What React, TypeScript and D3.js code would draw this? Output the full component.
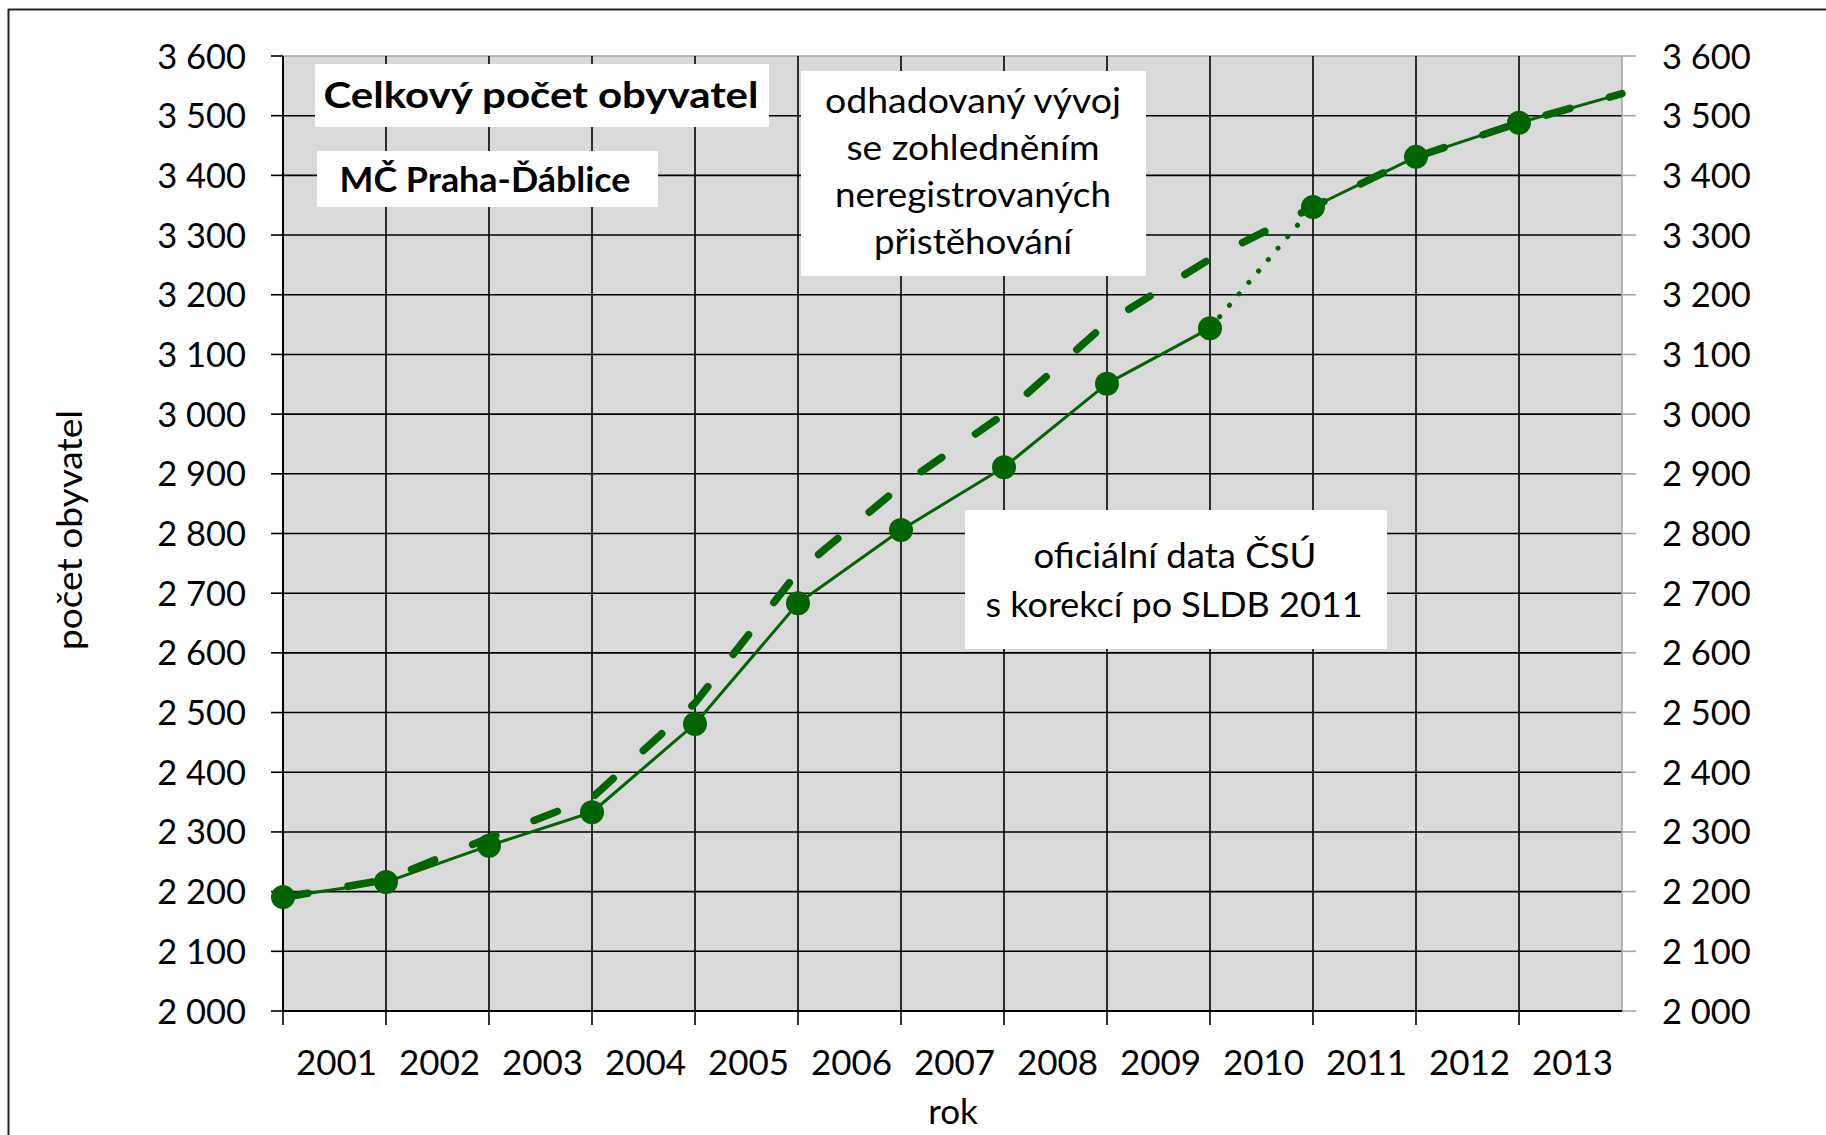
import React from 'react';
import * as d3 from 'd3';

// ---- data ----
const years = ['2001', '2002', '2003', '2004', '2005', '2006', '2007', '2008', '2009', '2010', '2011', '2012', '2013'];
// values at the category boundaries (start of each year, plus the end of 2013)
const official = [2191, 2216, 2277, 2333, 2481, 2683, 2806, 2911, 3051, 3144, 3347, 3431, 3488, 3537];
const estimated = [2190, 2220, 2290, 2357, 2516, 2736, 2880, 3000, 3153, 3260, 3347, 3431, 3488, 3537];
const yTicks = [2000, 2100, 2200, 2300, 2400, 2500, 2600, 2700, 2800, 2900, 3000, 3100, 3200, 3300, 3400, 3500, 3600];
const markerCount = 13;
const dottedFrom = 9; // official series: dotted segment 2009 -> 2010

const W = 1826;
const H = 1135;
const X0 = 283;
const X1 = 1622;
const Y0 = 56;
const Y1 = 1011;
const GREEN = '#006400';
const FONT = 'Lato, "Open Sans", sans-serif';

const fmt = d3.formatLocale({ decimal: ',', thousands: ' ', grouping: [3], currency: ['', ''] }).format(',d');

export default function App() {
  const x = d3.scaleLinear().domain([0, years.length]).range([X0, X1]);
  const band = d3.scaleBand().domain(years).range([X0, X1]).padding(0);
  const y = d3.scaleLinear().domain([2000, 3600]).range([Y1, Y0]);
  const lineOff = (off: number) =>
    d3
      .line<number>()
      .x((_, i) => x(i + off))
      .y((d) => y(d));
  const line = lineOff(0);

  const solidA = official.slice(0, dottedFrom + 1);
  const dotted = official.slice(dottedFrom, dottedFrom + 2);
  const solidB = official.slice(dottedFrom + 1);

  return (
    <svg
      width={W}
      height={H}
      viewBox={`0 0 ${W} ${H}`}
      style={{ position: 'absolute', left: 0, top: 0, display: 'block', background: '#fff' }}
      fontFamily={FONT}
    >
      {/* outer frame (left & top visible) */}
      <line x1={8.5} y1={9} x2={8.5} y2={H} stroke="#222" strokeWidth={2} />
      <line x1={8} y1={9.5} x2={W} y2={9.5} stroke="#222" strokeWidth={2} />

      {/* plot area */}
      <rect x={X0} y={Y0} width={X1 - X0} height={Y1 - Y0} fill="#d9d9d9" />

      {/* horizontal gridlines + left ticks + right ticks */}
      {yTicks.map((t) => {
        const yy = y(t);
        const top = t === 3600;
        return (
          <g key={'h' + t}>
            <line x1={X0 - 12} x2={X0} y1={yy} y2={yy} stroke="#000" strokeWidth={1.6} />
            <line x1={X0} x2={X1} y1={yy} y2={yy} stroke={top ? '#a6a6a6' : '#000'} strokeWidth={1.6} />
            <line x1={X1} x2={X1 + 14} y1={yy} y2={yy} stroke="#a6a6a6" strokeWidth={1.6} />
            <text x={X0 - 37} y={yy + 12.5} fontSize={34.5} textAnchor="end" fill="#000">
              {fmt(t)}
            </text>
            <text x={X1 + 40} y={yy + 12.5} fontSize={34.5} textAnchor="start" fill="#000">
              {fmt(t)}
            </text>
          </g>
        );
      })}

      {/* vertical gridlines + bottom ticks */}
      {years.map((_, i) => (
        <line key={'v' + i} x1={x(i)} x2={x(i)} y1={Y0} y2={Y1 + 14} stroke="#000" strokeWidth={1.6} />
      ))}
      <line x1={X1} x2={X1} y1={Y0} y2={Y1} stroke="#a6a6a6" strokeWidth={1.6} />
      <line x1={X0} x2={X0} y1={Y0} y2={Y1} stroke="#000" strokeWidth={2} />
      <line x1={X0} x2={X1} y1={Y1} y2={Y1} stroke="#000" strokeWidth={2} />

      {/* x labels */}
      {years.map((yr) => (
        <text key={yr} x={(band(yr) as number) + band.bandwidth() / 2 + 2} y={1075} fontSize={35} textAnchor="middle" fill="#000">
          {yr}
        </text>
      ))}
      <text x={953} y={1124} fontSize={35} textAnchor="middle" fill="#000">
        rok
      </text>
      <text transform="translate(82,530) rotate(-90)" fontSize={35} textAnchor="middle" fill="#000" textLength={240} lengthAdjust="spacingAndGlyphs">
        počet obyvatel
      </text>

      {/* annotation boxes */}
      <rect x={315} y={64} width={454} height={63} fill="#fff" />
      <text x={541} y={108} fontSize={37} fontWeight={700} textAnchor="middle" fill="#000" textLength={435} lengthAdjust="spacingAndGlyphs">
        Celkový počet obyvatel
      </text>
      <rect x={317} y={151} width={341} height={56} fill="#fff" />
      <text x={485} y={192} fontSize={35} fontWeight={700} textAnchor="middle" fill="#000" textLength={291} lengthAdjust="spacingAndGlyphs">
        MČ Praha-Ďáblice
      </text>

      <rect x={801} y={71} width={345} height={205} fill="#fff" />
      {[
        ['odhadovaný vývoj', 113, 296],
        ['se zohledněním', 160, 253],
        ['neregistrovaných', 207, 276],
        ['přistěhování', 254, 198],
      ].map(([s, yy, len]) => (
        <text key={s as string} x={973} y={yy as number} fontSize={35} textAnchor="middle" fill="#000" textLength={len as number} lengthAdjust="spacingAndGlyphs">
          {s}
        </text>
      ))}

      <rect x={965} y={510} width={422} height={139} fill="#fff" />
      <text x={1175} y={568} fontSize={35} textAnchor="middle" fill="#000" textLength={283} lengthAdjust="spacingAndGlyphs">
        oficiální data ČSÚ
      </text>
      <text x={1174} y={617} fontSize={35} textAnchor="middle" fill="#000" textLength={377} lengthAdjust="spacingAndGlyphs">
        s korekcí po SLDB 2011
      </text>

      {/* estimated (dashed) series */}
      <path d={line(estimated) as string} fill="none" stroke={GREEN} strokeWidth={7.5} strokeDasharray="25 41" strokeLinecap="round" strokeLinejoin="round" />

      {/* official series */}
      <path d={line(solidA) as string} fill="none" stroke={GREEN} strokeWidth={3} strokeLinejoin="round" />
      <path d={lineOff(dottedFrom)(dotted) as string} fill="none" stroke={GREEN} strokeWidth={5} strokeDasharray="0.1 14.9" strokeLinecap="round" />
      <path d={lineOff(dottedFrom + 1)(solidB) as string} fill="none" stroke={GREEN} strokeWidth={3} strokeLinejoin="round" />
      {official.slice(0, markerCount).map((v, i) => (
        <circle key={'m' + i} cx={x(i)} cy={y(v)} r={12} fill={GREEN} />
      ))}
    </svg>
  );
}
